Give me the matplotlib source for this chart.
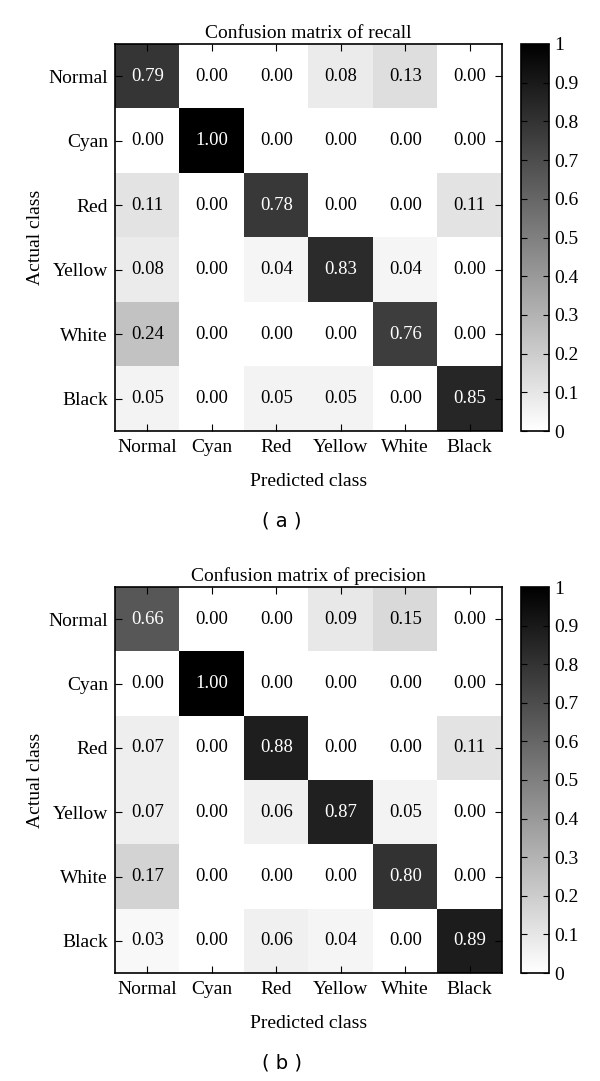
import matplotlib
matplotlib.use('Agg')
import matplotlib.pyplot as plt
import numpy as np

plt.rcParams['font.family'] = ['Liberation Serif', 'DejaVu Serif']

classes = ['Normal', 'Cyan', 'Red', 'Yellow', 'White', 'Black']

recall = np.array([
    [0.79, 0.00, 0.00, 0.08, 0.13, 0.00],
    [0.00, 1.00, 0.00, 0.00, 0.00, 0.00],
    [0.11, 0.00, 0.78, 0.00, 0.00, 0.11],
    [0.08, 0.00, 0.04, 0.83, 0.04, 0.00],
    [0.24, 0.00, 0.00, 0.00, 0.76, 0.00],
    [0.05, 0.00, 0.05, 0.05, 0.00, 0.85],
])

precision = np.array([
    [0.66, 0.00, 0.00, 0.09, 0.15, 0.00],
    [0.00, 1.00, 0.00, 0.00, 0.00, 0.00],
    [0.07, 0.00, 0.88, 0.00, 0.00, 0.11],
    [0.07, 0.00, 0.06, 0.87, 0.05, 0.00],
    [0.17, 0.00, 0.00, 0.00, 0.80, 0.00],
    [0.03, 0.00, 0.06, 0.04, 0.00, 0.89],
])

titles = ['Confusion matrix of recall', 'Confusion matrix of precision']
panels = ['( a )', '( b )']
cbar_ticks = np.round(np.arange(0, 1.01, 0.1), 1)
cbar_labels = ['0'] + ['%.1f' % t for t in cbar_ticks[1:-1]] + ['1']

fig = plt.figure(figsize=(6, 10.81), dpi=100)
W, H = 600.0, 1081.0

# (top, bottom) of each heatmap in pixels
boxes = [(44, 431), (587, 973)]

for data, title, panel, (top, bot) in zip([recall, precision], titles, panels, boxes):
    ax = fig.add_axes([115 / W, 1 - bot / H, 387 / W, (bot - top) / H])
    im = ax.imshow(data, cmap='gray_r', vmin=0, vmax=1, aspect='auto',
                   interpolation='nearest')
    for i in range(data.shape[0]):
        for j in range(data.shape[1]):
            v = data[i, j]
            ax.text(j, i, '%.2f' % v, ha='center', va='center', fontsize=13.5,
                    color='white' if v > 0.5 else 'black')
    ax.set_xticks(range(len(classes)))
    ax.set_yticks(range(len(classes)))
    ax.set_xticklabels(classes, fontsize=14)
    ax.set_yticklabels(classes, fontsize=14)
    ax.tick_params(direction='in', length=5, width=0.8, top=True, right=True, pad=5)
    ax.tick_params(axis='x', pad=6)
    ax.set_xlabel('Predicted class', fontsize=14, labelpad=12)
    ax.set_ylabel('Actual class', fontsize=14, labelpad=3)
    ax.set_title(title, fontsize=14, pad=4)
    for s in ax.spines.values():
        s.set_linewidth(1.2)

    cax = fig.add_axes([521 / W, 1 - bot / H, 28 / W, (bot - top) / H])
    cb = fig.colorbar(im, cax=cax, ticks=cbar_ticks)
    cb.ax.set_yticklabels(cbar_labels, fontsize=14)
    cb.ax.tick_params(direction='in', length=4, width=0.8, left=True, pad=4)
    cb.outline.set_linewidth(1.2)

    fig.text(282 / W, 1 - (bot + 90) / H, panel,
             ha='center', va='center', fontsize=14, family='DejaVu Sans')

fig.savefig('out.png', dpi=100)
